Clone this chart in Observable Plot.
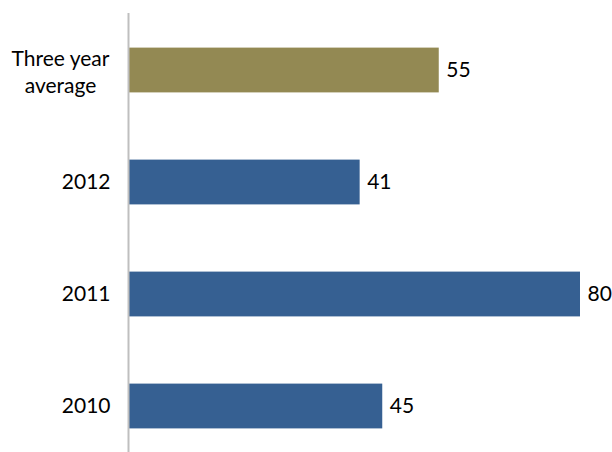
<!DOCTYPE html>
<html><head><meta charset="utf-8">
<script src="https://cdn.jsdelivr.net/npm/d3@7"></script>
<script src="https://cdn.jsdelivr.net/npm/@observablehq/plot@0.6"></script>
<style>
body{margin:0;background:#fff;}
#chart{width:612px;height:452px;overflow:hidden;}
</style>
</head><body><div id="chart"></div>
<script>
const categories = ["Three year\naverage", "2012", "2011", "2010"];
const values = [55, 41, 80, 45];
const colors = ["#938953", "#366092", "#366092", "#366092"];

const data = categories.map((c, i) => ({cat: c, value: values[i], color: colors[i], multi: c.includes("\n")}));

const chart = Plot.plot({
  width: 612,
  height: 462,
  marginLeft: 128,
  marginRight: 32,
  marginTop: 14,
  marginBottom: 0,
  style: {fontFamily: "Lato, sans-serif", fontSize: "21px", background: "#fff"},
  x: {domain: [0, 80], axis: null},
  y: {domain: categories, axis: null, paddingInner: 0.6, paddingOuter: 0.3, round: false},
  marks: [
    Plot.barX(data, {y: "cat", x: "value", fill: d => d.color}),
    Plot.ruleX([0], {stroke: "#bfbfbf", strokeWidth: 2, insetTop: -1}),
    Plot.text(data, {y: "cat", x: "value", text: d => String(d.value), textAnchor: "start", dx: 7, fill: "#000", fontSize: 21}),
    Plot.text(data.filter(d => !d.multi), {y: "cat", x: 0, text: "cat", textAnchor: "end", dx: -18, fill: "#000", fontSize: 21}),
    Plot.text(data.filter(d => d.multi), {y: "cat", x: 0, text: "cat", textAnchor: "middle", dx: -68, lineHeight: 1.3, fill: "#000", fontSize: 21})
  ]
});
document.getElementById("chart").appendChild(chart);
</script>
</body></html>
